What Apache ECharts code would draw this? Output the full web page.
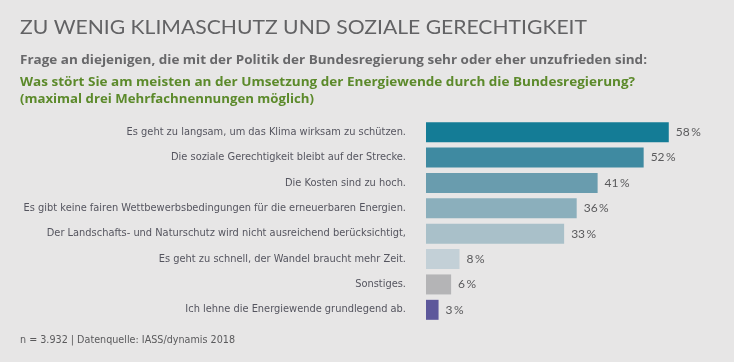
<!DOCTYPE html>
<html><head><meta charset="utf-8">
<script src="https://cdn.jsdelivr.net/npm/echarts@6/dist/echarts.min.js"></script>
<style>html,body{margin:0;padding:0;background:#e7e6e6;}#c{width:734px;height:362px;}</style>
</head><body><div id="c"></div>
<script>
const categories = [
  "Es geht zu langsam, um das Klima wirksam zu schützen.",
  "Die soziale Gerechtigkeit bleibt auf der Strecke.",
  "Die Kosten sind zu hoch.",
  "Es gibt keine fairen Wettbewerbsbedingungen für die erneuerbaren Energien.",
  "Der Landschafts- und Naturschutz wird nicht ausreichend berücksichtigt,",
  "Es geht zu schnell, der Wandel braucht mehr Zeit.",
  "Sonstiges.",
  "Ich lehne die Energiewende grundlegend ab."
];
const values = [58, 52, 41, 36, 33, 8, 6, 3];
const barColors = ["#147c96", "#3f8aa1", "#699cae", "#8bafbc", "#a9c0c9", "#c3d0d7", "#b4b4b6", "#5d589b"];
const titleText = "ZU WENIG KLIMASCHUTZ UND SOZIALE GERECHTIGKEIT";
const subText1 = "Frage an diejenigen, die mit der Politik der Bundesregierung sehr oder eher unzufrieden sind:";
const subText2 = "Was stört Sie am meisten an der Umsetzung der Energiewende durch die Bundesregierung?";
const subText3 = "(maximal drei Mehrfachnennungen möglich)";
const footText = "n = 3.932 | Datenquelle: IASS/dynamis 2018";

const ctx = document.createElement('canvas').getContext('2d');
function fitText(text, font, fill, x, y, targetW) {
  ctx.font = font;
  const w = ctx.measureText(text).width;
  return {type: 'text', x: x, y: y, scaleX: targetW / w, silent: true,
    style: {text: text, font: font, fill: fill, verticalAlign: 'middle', align: 'left'}};
}

const chart = echarts.init(document.getElementById('c'));
chart.setOption({
  backgroundColor: '#e7e6e6',
  animation: false,
  graphic: [
    fitText(titleText, 'normal 19.5px Lato', '#626264', 20, 27.5, 567),
    fitText(subText1, 'bold 12.5px "Open Sans"', '#68686a', 20, 60.5, 627),
    fitText(subText2, 'bold 12.5px "Open Sans"', '#5c8a2b', 20, 82, 615),
    fitText(subText3, 'bold 12.5px "Open Sans"', '#5c8a2b', 20, 99, 294),
    fitText(footText, 'normal 10px "DejaVu Sans"', '#5a5a5c', 20, 340.5, 215)
  ],
  grid: {left: 426, top: 119.5, height: 203, width: 293},
  xAxis: {type: 'value', min: 0, max: 70, show: false},
  yAxis: {
    type: 'category', data: categories, inverse: true,
    axisLine: {show: false}, axisTick: {show: false},
    axisLabel: {margin: 20, fontFamily: 'DejaVu Sans', fontSize: 9.85, color: '#55555f'}
  },
  series: [{
    type: 'bar', barWidth: 20,
    data: values.map((v, i) => ({value: v, itemStyle: {color: barColors[i]}})),
    label: {show: true, position: 'right', distance: 7, formatter: p => p.value + '\u2009%', fontFamily: 'Lato', fontSize: 12, color: '#5a5a5c'}
  }]
});
</script></body></html>
